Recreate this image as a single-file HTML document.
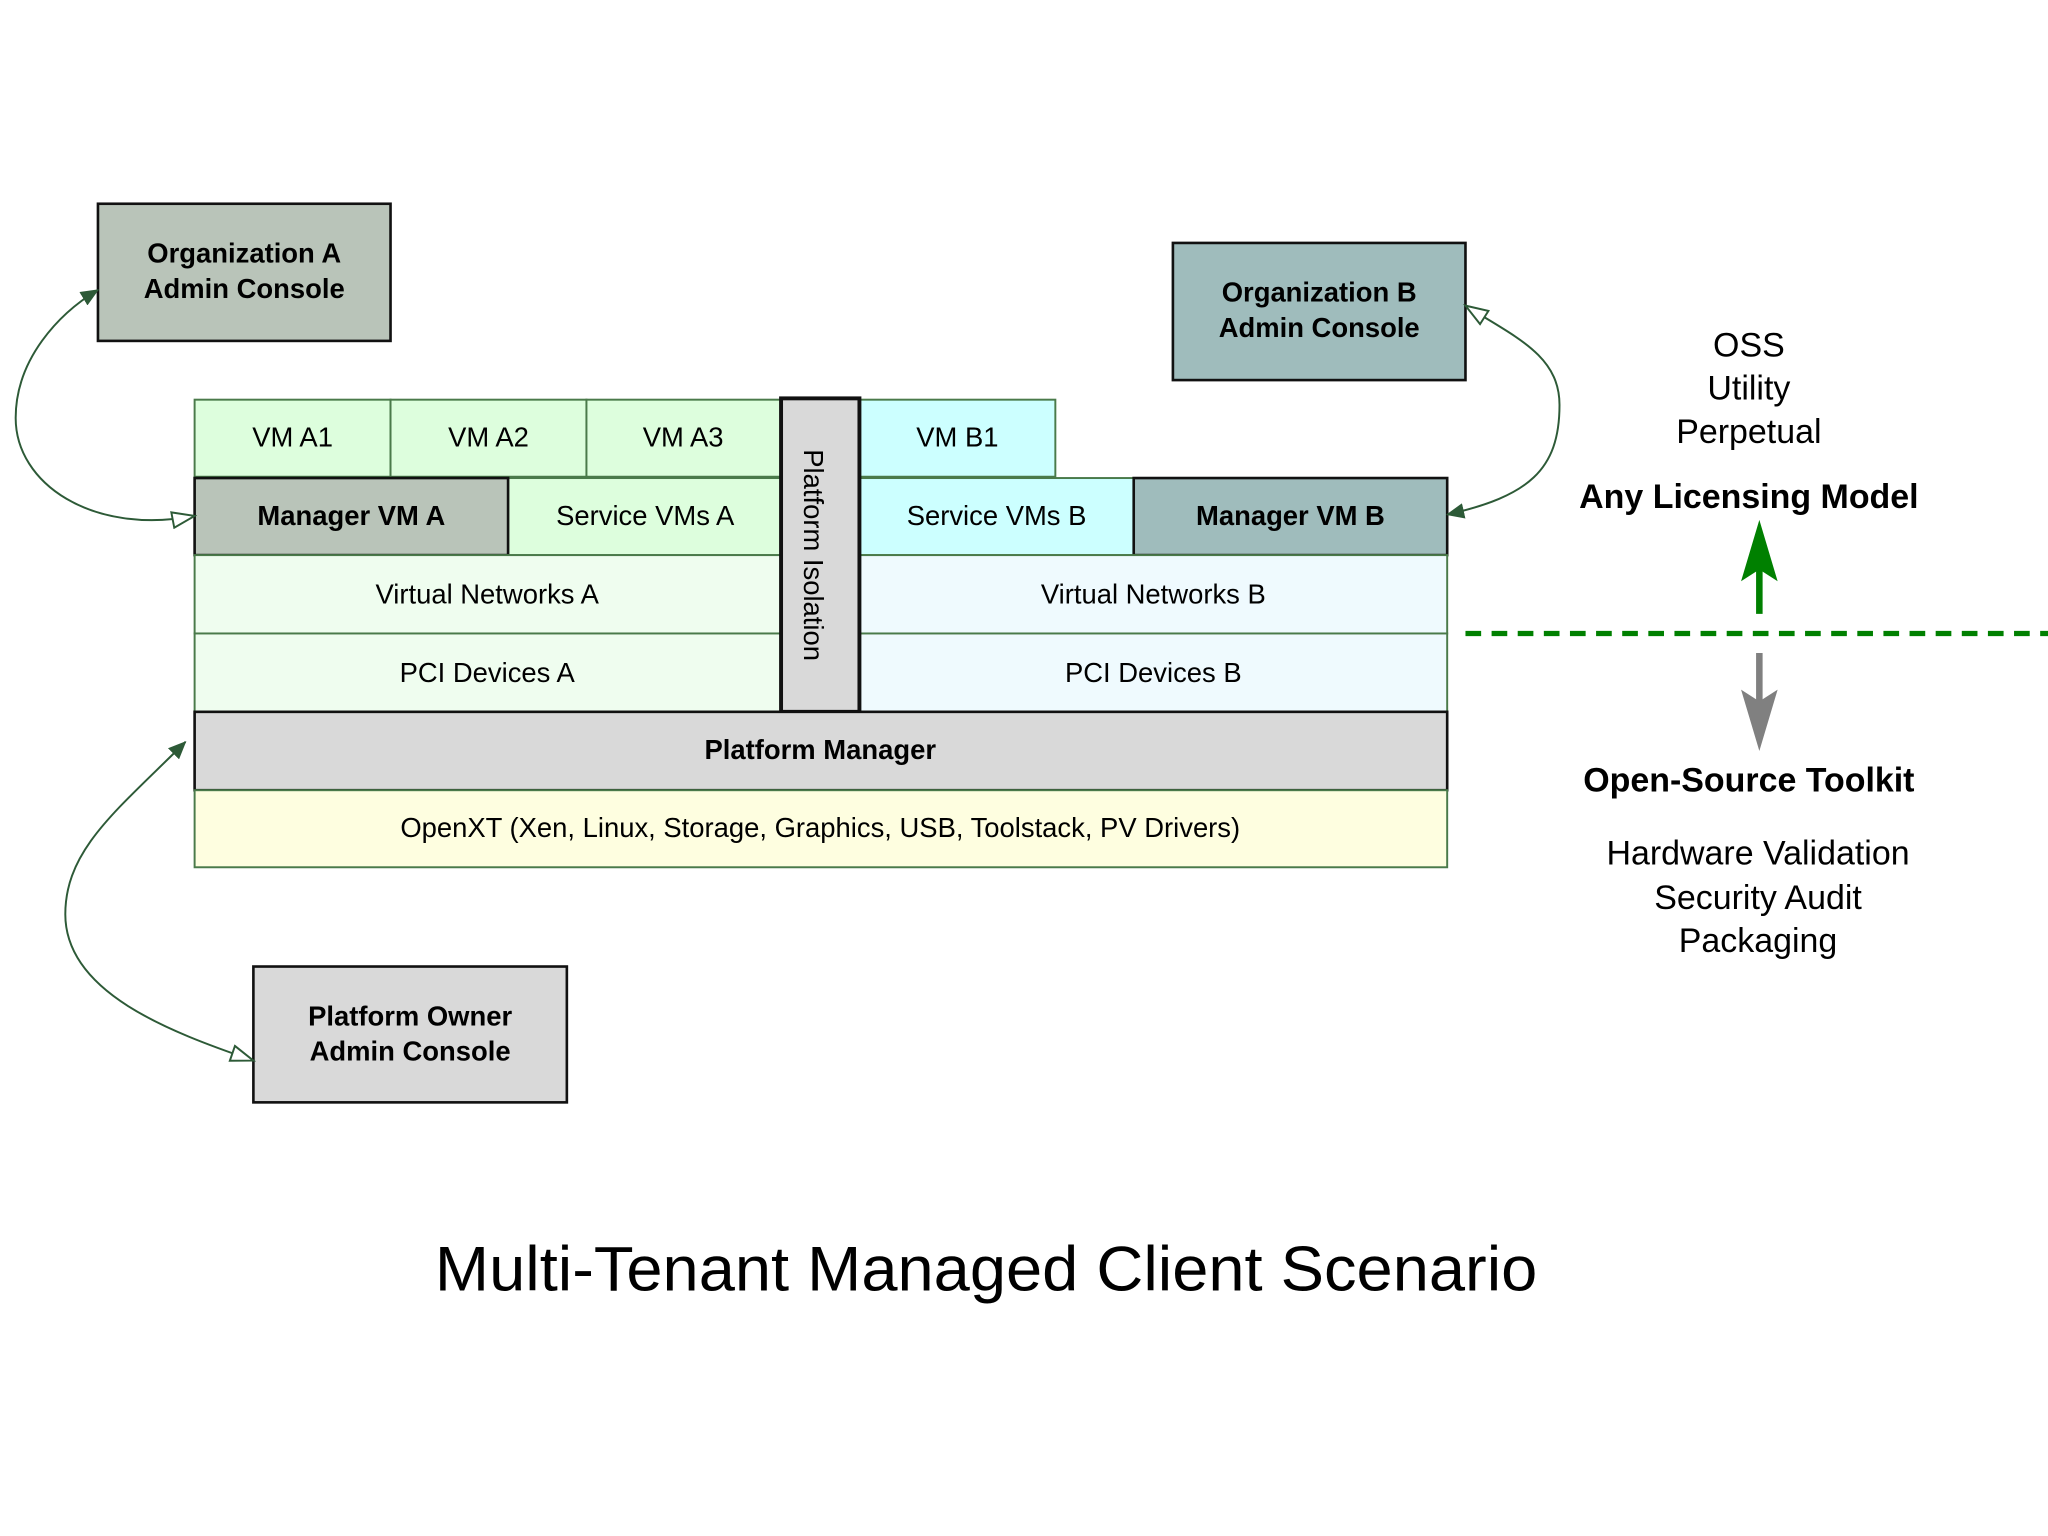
<!DOCTYPE html>
<html><head><meta charset="utf-8"><style>html,body{margin:0;padding:0;background:#fff}svg{display:block}</style></head>
<body>
<svg width="2048" height="1536" viewBox="0 0 1568 1176" xmlns="http://www.w3.org/2000/svg" font-family="Liberation Sans, DejaVu Sans, sans-serif">
<defs>
<marker id="fa" markerWidth="14" markerHeight="12" refX="13" refY="6" orient="auto" markerUnits="userSpaceOnUse"><path d="M0,0 L14,6 L0,12 Z" fill="#2d5a37"/></marker>
<marker id="oa" markerWidth="20" markerHeight="14" refX="18" refY="7" orient="auto-start-reverse" markerUnits="userSpaceOnUse"><path d="M1,1 L18,7 L1,13 Z" fill="#fff" stroke="#2d5a37" stroke-width="1.5"/></marker>
</defs>
<g font-size="21" text-anchor="middle" fill="#000">
<rect x="75" y="156" width="224" height="105" fill="#b9c4b9" stroke="#111" stroke-width="2"/>
<text x="187" y="201" font-weight="bold">Organization A</text>
<text x="187" y="228" font-weight="bold">Admin Console</text>
<rect x="898" y="186" width="224" height="105" fill="#9fbcbc" stroke="#111" stroke-width="2"/>
<text x="1010" y="231" font-weight="bold">Organization B</text>
<text x="1010" y="258" font-weight="bold">Admin Console</text>
<rect x="194" y="740" width="240" height="104" fill="#d9d9d9" stroke="#111" stroke-width="2"/>
<text x="314" y="785" font-weight="bold">Platform Owner</text>
<text x="314" y="812" font-weight="bold">Admin Console</text>

<rect x="149" y="306" width="150" height="59" fill="#ddfedd" stroke="#4a7a4a" stroke-width="1.5"/>
<rect x="299" y="306" width="150" height="59" fill="#ddfedd" stroke="#4a7a4a" stroke-width="1.5"/>
<rect x="449" y="306" width="149" height="59" fill="#ddfedd" stroke="#4a7a4a" stroke-width="1.5"/>
<rect x="658" y="306" width="150" height="59" fill="#ccffff" stroke="#4a7a4a" stroke-width="1.5"/>
<text x="224" y="342">VM A1</text><text x="374" y="342">VM A2</text><text x="523" y="342">VM A3</text><text x="733" y="342">VM B1</text>
<rect x="389" y="366" width="209" height="59" fill="#ddfedd" stroke="#4a7a4a" stroke-width="1.5"/>
<rect x="149" y="366" width="240" height="59" fill="#b9c4b9" stroke="#111" stroke-width="2"/>
<rect x="658" y="366" width="210" height="59" fill="#ccffff" stroke="#4a7a4a" stroke-width="1.5"/>
<rect x="868" y="366" width="240" height="59" fill="#9fbcbc" stroke="#111" stroke-width="2"/>
<text x="269" y="402" font-weight="bold">Manager VM A</text>
<text x="494" y="402">Service VMs A</text>
<text x="763" y="402">Service VMs B</text>
<text x="988" y="402" font-weight="bold">Manager VM B</text>
<rect x="149" y="425" width="449" height="60" fill="#effdef" stroke="#4a7a4a" stroke-width="1.5"/>
<rect x="149" y="485" width="449" height="60" fill="#effdef" stroke="#4a7a4a" stroke-width="1.5"/>
<rect x="658" y="425" width="450" height="60" fill="#effafe" stroke="#4a7a4a" stroke-width="1.5"/>
<rect x="658" y="485" width="450" height="60" fill="#effafe" stroke="#4a7a4a" stroke-width="1.5"/>
<text x="373" y="462">Virtual Networks A</text>
<text x="373" y="522">PCI Devices A</text>
<text x="883" y="462">Virtual Networks B</text>
<text x="883" y="522">PCI Devices B</text>
<rect x="598" y="305" width="60" height="240" fill="#d9d9d9" stroke="#111" stroke-width="3"/>
<text transform="translate(621,425) rotate(90)" y="0" dominant-baseline="middle">Platform Isolation</text>
<rect x="149" y="545" width="959" height="60" fill="#d9d9d9" stroke="#111" stroke-width="2"/>
<text x="628" y="581" font-weight="bold">Platform Manager</text>
<rect x="149" y="605" width="959" height="59" fill="#fefee0" stroke="#4a7a4a" stroke-width="1.5"/>
<text x="628" y="641">OpenXT (Xen, Linux, Storage, Graphics, USB, Toolstack, PV Drivers)</text>

<g font-size="26">
<text x="1339" y="273">OSS</text>
<text x="1339" y="306">Utility</text>
<text x="1339" y="339">Perpetual</text>
<text x="1339" y="389" font-weight="bold">Any Licensing Model</text>
<text x="1339" y="606" font-weight="bold">Open-Source Toolkit</text>
<text x="1346" y="662">Hardware Validation</text>
<text x="1346" y="696">Security Audit</text>
<text x="1346" y="729">Packaging</text>
</g>
<text x="755" y="988" font-size="48" textLength="844" lengthAdjust="spacingAndGlyphs">Multi-Tenant Managed Client Scenario</text>
</g>
<line x1="1347" y1="470" x2="1347" y2="430" stroke="#008000" stroke-width="5"/>
<path d="M1347,398 L1361,445 L1347,436 L1333,445 Z" fill="#008000"/>
<line x1="1347" y1="500" x2="1347" y2="540" stroke="#808080" stroke-width="5"/>
<path d="M1347,575 L1333,528 L1347,537 L1361,528 Z" fill="#808080"/>
<line x1="1122" y1="485" x2="1568" y2="485" stroke="#008000" stroke-width="4" stroke-dasharray="12,8"/>
<g fill="none" stroke="#2d5a37" stroke-width="1.5">
<path d="M149,395 C70,410 12,370 12,320 C12,275 45,240 75,222" marker-start="url(#oa)" marker-end="url(#fa)"/>
<path d="M1122,234 C1160,258 1194,272 1194,310 C1194,360 1170,380 1108,394" marker-start="url(#oa)" marker-end="url(#fa)"/>
<path d="M194,812 C130,790 50,760 50,700 C50,650 90,620 142,568" marker-start="url(#oa)" marker-end="url(#fa)"/>
</g>
</svg>
</body></html>
